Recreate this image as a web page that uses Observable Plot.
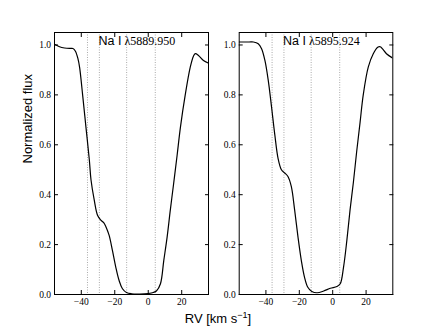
<!DOCTYPE html>
<html><head><meta charset="utf-8">
<script src="https://cdn.jsdelivr.net/npm/d3@7"></script>
<script src="https://cdn.jsdelivr.net/npm/@observablehq/plot@0.6"></script>
<style>
body{margin:0;background:#fff;}
#fig{position:relative;width:436px;height:327px;font-family:"Liberation Sans",Arial,sans-serif;color:#000;}
#fig svg{position:absolute;top:0;}
#xlabel{position:absolute;left:0;width:436px;top:311px;text-align:center;font-size:13px;line-height:16px;}
#xlabel sup{font-size:9px;line-height:0;}
</style></head><body>
<div id="fig"><div id="xlabel">RV [km s<sup>−1</sup>]</div></div>
<script>
// Data
const ionLabels = ["Na I", "Na I"];
const waveLabels = ["λ5889.950", "λ5895.924"];
const components = [-36.3, -29.2, -12.9, 4.2];
const xTicks = [-40, -20, 0, 20];
const yTicks = [0, 0.2, 0.4, 0.6, 0.8, 1.0];
const xDomain = [-56, 36];
const yDomain = [0, 1.05];

const rvA = [-56, -53, -50, -47, -45, -43.5, -42, -41, -39.2, -37.2, -35.2, -34.2, -32.3, -30.3, -28.3, -26.5, -25.3, -23.4, -21.4, -19.4, -17.4, -15.4, -13, -10, -5, 0, 3, 5, 7.3, 9.3, 11.3, 13.2, 15.2, 17.2, 19.2, 22.1, 25.1, 27, 28.1, 30, 33, 36];
const fluxA = [1.003, 0.993, 0.988, 0.986, 0.986, 0.975, 0.945, 0.91, 0.80, 0.67, 0.54, 0.46, 0.38, 0.318, 0.298, 0.287, 0.272, 0.238, 0.177, 0.11, 0.056, 0.023, 0.008, 0.003, 0.002, 0.004, 0.008, 0.015, 0.043, 0.137, 0.231, 0.339, 0.446, 0.555, 0.669, 0.80, 0.911, 0.955, 0.965, 0.958, 0.938, 0.927];

const rvB = [-56, -50, -47.5, -44.6, -42.6, -40.6, -38.6, -36.6, -34.7, -32.7, -30.7, -28.7, -26.8, -24.8, -22.8, -20.8, -18.8, -16.9, -14.9, -12.5, -9.3, -5.4, -1.4, 2.5, 4.5, 6.5, 8.5, 10.4, 12.4, 14.4, 16.4, 18.3, 21.3, 24.3, 27.2, 28.5, 30, 32.2, 36];
const fluxB = [1.012, 1.012, 1.012, 1.005, 0.985, 0.938, 0.858, 0.75, 0.642, 0.545, 0.50, 0.487, 0.473, 0.433, 0.339, 0.231, 0.137, 0.07, 0.029, 0.012, 0.007, 0.014, 0.025, 0.032, 0.043, 0.11, 0.218, 0.339, 0.45, 0.575, 0.69, 0.80, 0.911, 0.965, 0.992, 0.993, 0.983, 0.965, 0.947];

const serif = "'Liberation Serif','Times New Roman',serif";
const sans = "'Liberation Sans',Arial,sans-serif";

function panel(rv, flux, i, ml, mr, showYLabel) {
  const data = rv.map((v, k) => ({v, f: flux[k]}));
  const marks = [
    Plot.ruleX(components, {stroke: "#aaaaaa", strokeDasharray: "1,1.5", strokeWidth: 1}),
    Plot.line(data, {x: "v", y: "f", curve: "catmull-rom", stroke: "black", strokeWidth: 1.2, clip: true}),
    Plot.frame({stroke: "black", strokeWidth: 1}),
    Plot.axisX({ticks: xTicks, tickSize: -4, tickPadding: 8, label: null, fontFamily: serif, fontSize: 9.5}),
    Plot.axisX({anchor: "top", ticks: xTicks, tickSize: -4, tickFormat: () => "", label: null}),
    Plot.axisY({ticks: yTicks, tickSize: -4, tickPadding: 7.5, tickFormat: d3.format(".1f"), label: null, fontFamily: serif, fontSize: 9.5}),
    Plot.axisY({anchor: "right", ticks: yTicks, tickSize: -4, tickFormat: () => "", label: null}),
    Plot.text([ionLabels[i]], {frameAnchor: "top", textAnchor: "end", lineAnchor: "top", dx: -10, dy: 4, fontSize: 12.5, fontFamily: sans}),
    Plot.text([waveLabels[i]], {frameAnchor: "top", textAnchor: "start", lineAnchor: "top", dx: -7, dy: 4, fontSize: 12, fontFamily: serif})
  ];
  if (showYLabel) marks.push(Plot.text(["Normalized flux"], {frameAnchor: "left", dx: -27, rotate: -90, fontSize: 13, fontFamily: sans}));
  return Plot.plot({
    width: 218, height: 312,
    marginLeft: ml, marginRight: mr, marginTop: 32, marginBottom: 18,
    x: {domain: xDomain},
    y: {domain: yDomain},
    style: {background: "transparent", color: "black", overflow: "visible"},
    marks
  });
}
const fig = document.getElementById("fig");
const a = panel(rvA, fluxA, 0, 54, 10, true);
a.style.left = "0px";
const b = panel(rvB, fluxB, 1, 20.7, 43.7, false);
b.style.left = "218px";
fig.appendChild(a);
fig.appendChild(b);
</script>
</body></html>
